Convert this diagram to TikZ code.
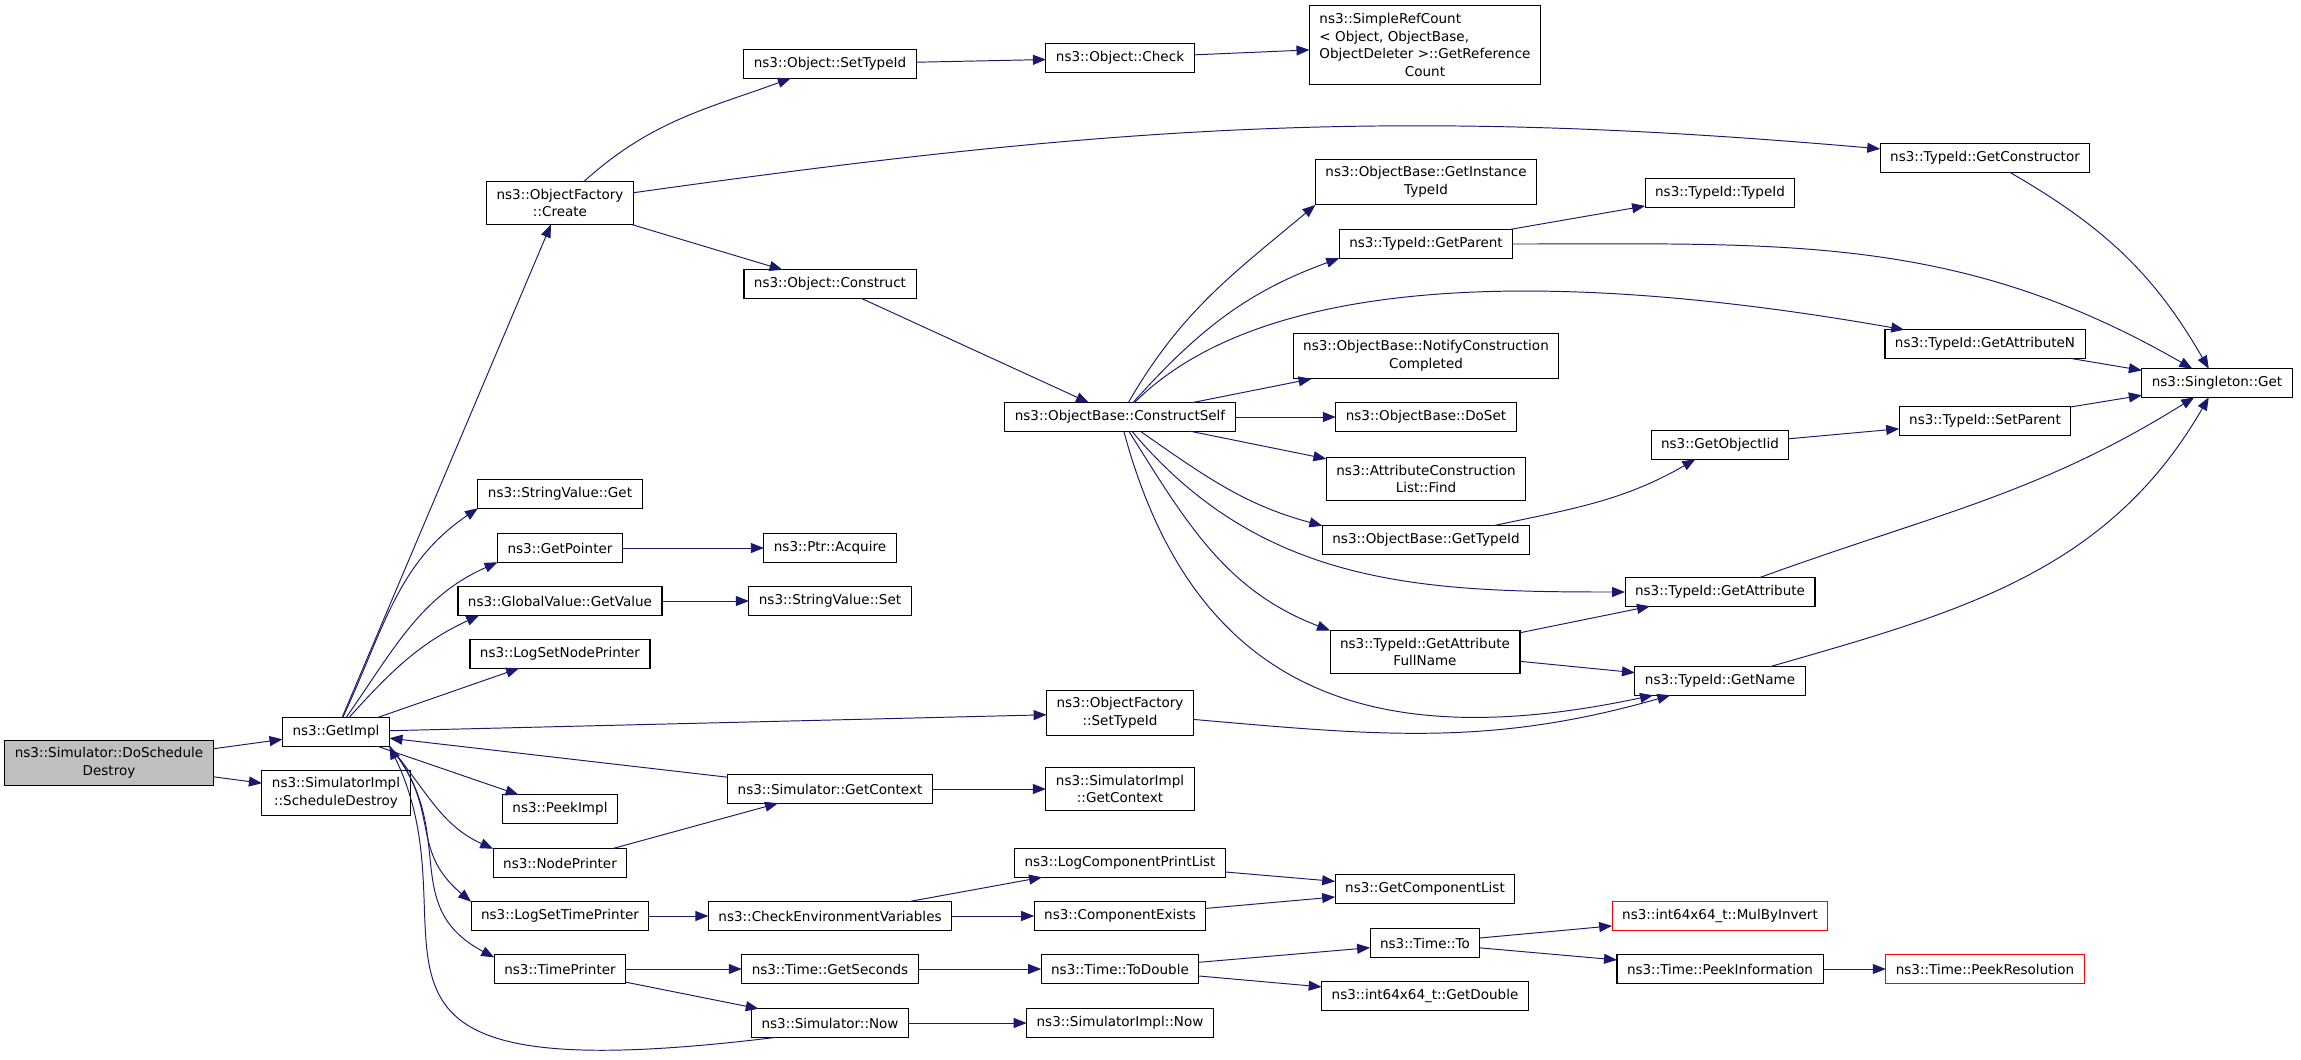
\documentclass[tikz,border=0pt]{standalone}
\usepackage{fontspec}
\setmainfont{DejaVu Sans}
\usepackage{tikz,tkz-graph}
\usetikzlibrary{arrows.meta}
\definecolor{edgeBlue}{RGB}{25,25,112}
\definecolor{rootGrey}{RGB}{191,191,191}
\tikzstyle{callBox}=[shape = rectangle, draw = black, line width = 0.6pt, fill = white, align = center, font = \fontsize{7.7pt}{10pt}\selectfont, inner xsep = 0.2cm, inner ysep = 0.15cm, minimum height = 0.57cm]
\tikzstyle{rootBox}=[callBox, fill = rootGrey]
\tikzstyle{missingBox}=[callBox, draw = red]
\tikzstyle{refBox}=[callBox, align = left]

\begin{document}
\begin{tikzpicture}[x = 0.02cm, y = 0.02cm]
\tikzstyle{VertexStyle} = []
\tikzstyle{EdgeStyle} = [draw = edgeBlue, line width = 0.55pt, -{Triangle[length = 0.26cm, width = 0.2cm]}]
\useasboundingbox (0,0) rectangle (2301,-1059);
% callers
\Vertex[style = rootBox, x = 109, y = -763, L = {ns3::Simulator::DoSchedule\\Destroy}]{doSchedDestroy}
\Vertex[style = callBox, x = 336, y = -732, L = {ns3::GetImpl}]{getImpl}
\Vertex[style = callBox, x = 336, y = -793, L = {ns3::SimulatorImpl\\::ScheduleDestroy}]{schedDestroy}
% third column
\Vertex[style = callBox, x = 560, y = -203, L = {ns3::ObjectFactory\\::Create}]{objCreate}
\Vertex[style = callBox, x = 560, y = -494, L = {ns3::StringValue::Get}]{strGet}
\Vertex[style = callBox, x = 560, y = -548, L = {ns3::GetPointer}]{getPointer}
\Vertex[style = callBox, x = 560, y = -601, L = {ns3::GlobalValue::GetValue}]{globalGetValue}
\Vertex[style = callBox, x = 560, y = -654, L = {ns3::LogSetNodePrinter}]{logNodePrinter}
\Vertex[style = callBox, x = 560, y = -809, L = {ns3::PeekImpl}]{peekImpl}
\Vertex[style = callBox, x = 560, y = -863, L = {ns3::NodePrinter}]{nodePrinter}
\Vertex[style = callBox, x = 560, y = -916, L = {ns3::LogSetTimePrinter}]{logTimePrinter}
\Vertex[style = callBox, x = 560, y = -969, L = {ns3::TimePrinter}]{timePrinter}
% fourth column
\Vertex[style = callBox, x = 830, y = -64, L = {ns3::Object::SetTypeId}]{objSetTypeId}
\Vertex[style = callBox, x = 830, y = -284, L = {ns3::Object::Construct}]{objConstruct}
\Vertex[style = callBox, x = 830, y = -548, L = {ns3::Ptr::Acquire}]{ptrAcquire}
\Vertex[style = callBox, x = 830, y = -601, L = {ns3::StringValue::Set}]{strSet}
\Vertex[style = callBox, x = 830, y = -789, L = {ns3::Simulator::GetContext}]{simGetContext}
\Vertex[style = callBox, x = 830, y = -916, L = {ns3::CheckEnvironmentVariables}]{checkEnv}
\Vertex[style = callBox, x = 830, y = -969, L = {ns3::Time::GetSeconds}]{getSeconds}
\Vertex[style = callBox, x = 830, y = -1023, L = {ns3::Simulator::Now}]{simNow}
% fifth column
\Vertex[style = callBox, x = 1120, y = -58, L = {ns3::Object::Check}]{objCheck}
\Vertex[style = callBox, x = 1120, y = -417, L = {ns3::ObjectBase::ConstructSelf}]{constructSelf}
\Vertex[style = callBox, x = 1120, y = -713, L = {ns3::ObjectFactory\\::SetTypeId}]{factSetTypeId}
\Vertex[style = callBox, x = 1120, y = -789, L = {ns3::SimulatorImpl\\::GetContext}]{implGetContext}
\Vertex[style = callBox, x = 1120, y = -863, L = {ns3::LogComponentPrintList}]{logCompPrint}
\Vertex[style = callBox, x = 1120, y = -916, L = {ns3::ComponentExists}]{compExists}
\Vertex[style = callBox, x = 1120, y = -969, L = {ns3::Time::ToDouble}]{toDouble}
\Vertex[style = callBox, x = 1120, y = -1023, L = {ns3::SimulatorImpl::Now}]{implNow}
% sixth column
\Vertex[style = refBox, x = 1425, y = -45, L = {ns3::SimpleRefCount\\< Object, ObjectBase,\\ ObjectDeleter >::GetReference\\\hfill Count\hfill\mbox{}}]{refCount}
\Vertex[style = callBox, x = 1426, y = -182, L = {ns3::ObjectBase::GetInstance\\TypeId}]{instTypeId}
\Vertex[style = callBox, x = 1426, y = -244, L = {ns3::TypeId::GetParent}]{getParent}
\Vertex[style = callBox, x = 1426, y = -356, L = {ns3::ObjectBase::NotifyConstruction\\Completed}]{notifyDone}
\Vertex[style = callBox, x = 1426, y = -417, L = {ns3::ObjectBase::DoSet}]{doSet}
\Vertex[style = callBox, x = 1426, y = -479, L = {ns3::AttributeConstruction\\List::Find}]{attrFind}
\Vertex[style = callBox, x = 1426, y = -540, L = {ns3::ObjectBase::GetTypeId}]{baseTypeId}
\Vertex[style = callBox, x = 1425, y = -652, L = {ns3::TypeId::GetAttribute\\FullName}]{attrFullName}
\Vertex[style = callBox, x = 1425, y = -889, L = {ns3::GetComponentList}]{getCompList}
\Vertex[style = callBox, x = 1425, y = -943, L = {ns3::Time::To}]{timeTo}
\Vertex[style = callBox, x = 1425, y = -996, L = {ns3::int64x64\_t::GetDouble}]{getDouble}
% seventh column
\Vertex[style = callBox, x = 1720, y = -193, L = {ns3::TypeId::TypeId}]{typeIdCtor}
\Vertex[style = callBox, x = 1720, y = -445, L = {ns3::GetObjectIid}]{getIid}
\Vertex[style = callBox, x = 1720, y = -592, L = {ns3::TypeId::GetAttribute}]{getAttr}
\Vertex[style = callBox, x = 1720, y = -681, L = {ns3::TypeId::GetName}]{getName}
\Vertex[style = missingBox, x = 1720, y = -916, L = {ns3::int64x64\_t::MulByInvert}]{mulByInvert}
\Vertex[style = callBox, x = 1720, y = -969, L = {ns3::Time::PeekInformation}]{peekInfo}
% right columns
\Vertex[style = callBox, x = 1985, y = -158, L = {ns3::TypeId::GetConstructor}]{getCtor}
\Vertex[style = callBox, x = 1985, y = -344, L = {ns3::TypeId::GetAttributeN}]{getAttrN}
\Vertex[style = callBox, x = 1985, y = -421, L = {ns3::TypeId::SetParent}]{setParent}
\Vertex[style = missingBox, x = 1985, y = -969, L = {ns3::Time::PeekResolution}]{peekRes}
\Vertex[style = callBox, x = 2217, y = -383, L = {ns3::Singleton::Get}]{singletonGet}
% calls from the left
\Edge(doSchedDestroy)(getImpl)
\Edge(doSchedDestroy)(schedDestroy)
\Edge(getImpl)(objCreate)
\Edge[style = {out = 65, in = -146}](getImpl)(strGet.south west)
\Edge[style = {out = 55, in = -156}](getImpl)(getPointer.south west)
\Edge[style = {out = 48, in = -155}](getImpl)(globalGetValue.-170)
\Edge(getImpl)(logNodePrinter)
\Edge(getImpl)(factSetTypeId)
\Edge(getImpl)(peekImpl)
\Edge[style = {out = -50, in = 156}](getImpl.south east)(nodePrinter.north west)
\Edge[style = {out = -50, in = 140, looseness = 1.2}](getImpl.south east)(logTimePrinter.north west)
\Edge[style = {out = -50, in = 152, looseness = 1.2}](getImpl.south east)(timePrinter.170)
\Edge(simGetContext)(getImpl)
\Edge[style = {out = 187, in = -64, out looseness = 2.6, in looseness = 1.14}](simNow.-165)(getImpl.south east)
% object creation
\Edge[style = {out = 42, in = -160}](objCreate)(objSetTypeId)
\Edge[style = {out = 8, in = 175}](objCreate)(getCtor)
\Edge(objCreate)(objConstruct)
\Edge(objSetTypeId)(objCheck)
\Edge(objCheck)(refCount)
\Edge(objConstruct)(constructSelf)
\Edge[style = {out = 60, in = -140}](constructSelf)(instTypeId.south west)
\Edge[style = {out = 48, in = -160}](constructSelf)(getParent.south west)
\Edge[style = {out = 45, in = 170, out looseness = 0.7, in looseness = 0.9}](constructSelf)(getAttrN)
\Edge(constructSelf)(notifyDone)
\Edge(constructSelf)(doSet)
\Edge(constructSelf)(attrFind)
\Edge[style = {out = -35, in = 165}](constructSelf)(baseTypeId.north west)
\Edge[style = {out = -50, in = 180}](constructSelf)(getAttr)
\Edge[style = {out = -58, in = 159}](constructSelf)(attrFullName.north west)
\Edge[style = {out = -75, in = -168, looseness = 1.2}](constructSelf)(getName)
% type ids
\Edge(getParent)(typeIdCtor)
\Edge[style = {out = 0, in = 150}](getParent)(singletonGet)
\Edge[style = {out = -30, in = 120}](getCtor)(singletonGet)
\Edge(getAttrN)(singletonGet)
\Edge(setParent)(singletonGet)
\Edge[style = {out = 20, in = -148}](getAttr)(singletonGet)
\Edge[style = {out = 16, in = -120}](getName)(singletonGet)
\Edge[style = {out = 12, in = -150}](baseTypeId)(getIid)
\Edge(getIid)(setParent)
\Edge(attrFullName)(getAttr)
\Edge(attrFullName)(getName)
\Edge[style = {out = -5, in = -164}](factSetTypeId)(getName)
% printers and time
\Edge(getPointer)(ptrAcquire)
\Edge(globalGetValue)(strSet)
\Edge(nodePrinter)(simGetContext)
\Edge(simGetContext)(implGetContext)
\Edge(logTimePrinter)(checkEnv)
\Edge(checkEnv)(logCompPrint)
\Edge(checkEnv)(compExists)
\Edge(logCompPrint)(getCompList)
\Edge(compExists)(getCompList)
\Edge(timePrinter)(getSeconds)
\Edge(timePrinter)(simNow)
\Edge(getSeconds)(toDouble)
\Edge(toDouble)(timeTo)
\Edge(toDouble)(getDouble)
\Edge(timeTo)(mulByInvert)
\Edge(timeTo)(peekInfo)
\Edge(peekInfo)(peekRes)
\Edge(simNow)(implNow)
\end{tikzpicture}
\end{document}
